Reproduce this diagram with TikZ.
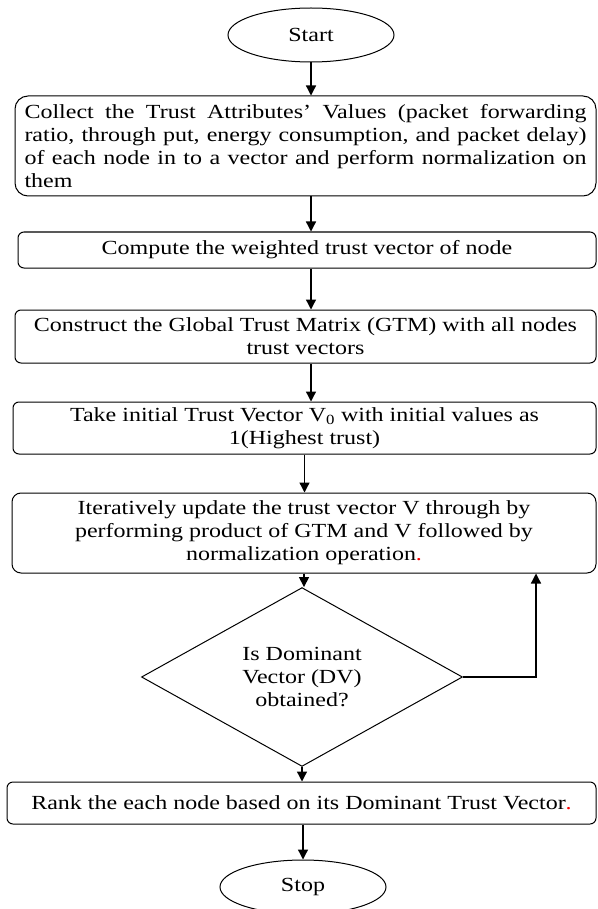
\documentclass[tikz,border=0pt]{standalone}
\usepackage{fontspec}
\setmainfont[FakeStretch=1.2]{Liberation Serif}
\usepackage{tikz}
\usetikzlibrary{shapes.geometric,arrows.meta,positioning}

\tikzset{
  every node/.style={font=\fontsize{20}{23}\selectfont},
  proc/.style={draw, line width=1pt, rounded corners=6pt, align=center, inner sep=0pt},
  term/.style={draw, ellipse, line width=1pt, minimum width=166pt, minimum height=54pt, inner sep=0pt},
  decision/.style={draw, diamond, line width=1pt, minimum width=321pt, minimum height=138pt, inner sep=0pt, align=center},
  arr/.style={-{Triangle[width=10pt,length=10pt]}, line width=1.3pt}
}

\begin{document}
\begin{tikzpicture}[x=1pt,y=-1pt]
  \useasboundingbox (0,0) rectangle (597,909);
  \node[term] (start) at (311,35) {Start};
  \node[proc, rounded corners=13pt, minimum width=581pt, minimum height=100pt, text width=562pt, align=justify] (collect) at (305.5,146)
    {Collect the Trust Attributes’ Values (packet forwarding\linebreak
     ratio, through put, energy consumption, and packet delay)\linebreak
     of each node in to a vector and perform normalization on\linebreak
     them};
  \node[proc, minimum width=578pt, minimum height=36pt] (weigh) at (307,250) {Compute the weighted trust vector of node};
  \node[proc, minimum width=581pt, minimum height=53pt] (gtm) at (305.5,336.5)
    {Construct the Global Trust Matrix (GTM) with all nodes\\trust vectors};
  \node[proc, minimum width=583pt, minimum height=52pt] (init) at (304.5,428)
    {Take initial Trust Vector V\textsubscript{0} with initial values as\\1(Highest trust)};
  \node[proc, rounded corners=9pt, minimum width=584pt, minimum height=80pt] (upd) at (304,533)
    {Iteratively update the trust vector V through by\\performing product of GTM and V followed by\\normalization operation\textcolor{red}{.}};
  \node[decision] (dec) at (302,677) {Is Dominant\\Vector (DV)\\obtained?};
  \node[proc, minimum width=589pt, minimum height=42pt] (rank) at (301.5,803)
    {Rank the each node based on its Dominant Trust Vector\textcolor{red}{.}};
  \node[term] (stop) at (303,887) {Stop};
  \coordinate (back) at (536,677);

  \foreach \a/\b/\c in {start/collect/start, collect/weigh/start, weigh/gtm/start, gtm/init/start,
                        init/upd/init, upd/dec/upd, dec/rank/dec, rank/stop/stop}{
    \draw[arr] (\a.south -| \c) -- (\b.north -| \c);
  }
  \draw[arr] (dec.east) -- (back) -- (back |- upd.south);
\end{tikzpicture}
\end{document}
